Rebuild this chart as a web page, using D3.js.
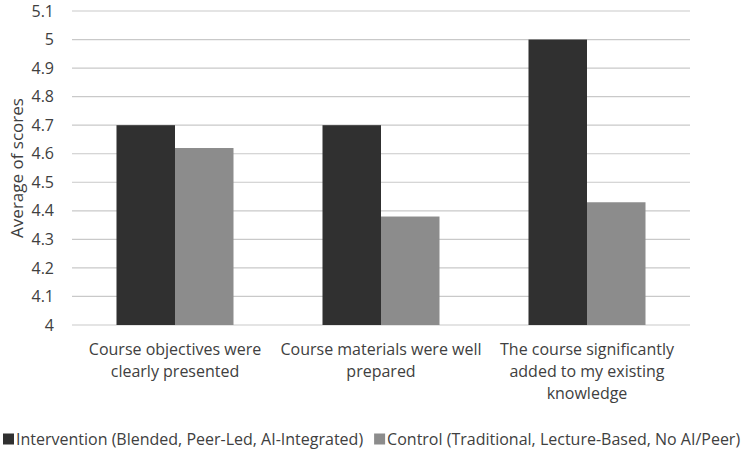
<!DOCTYPE html>
<html>
<head>
<meta charset="utf-8">
<script src="https://cdn.jsdelivr.net/npm/d3@7"></script>
<style>
  body { margin: 0; background: #fff; }
  svg { display: block; }
</style>
</head>
<body>
<svg id="chart" width="744" height="449"></svg>
<script>
// Data
const categories = [
  "Course objectives were\nclearly presented",
  "Course materials were well\nprepared",
  "The course significantly\nadded to my existing\nknowledge"
];
const seriesNames = [
  "Intervention (Blended, Peer-Led, AI-Integrated)",
  "Control (Traditional, Lecture-Based, No AI/Peer)"
];
const interventionValues = [4.7, 4.7, 5.0];
const controlValues = [4.62, 4.38, 4.43];
const yTicks = [4, 4.1, 4.2, 4.3, 4.4, 4.5, 4.6, 4.7, 4.8, 4.9, 5, 5.1];

const colors = ["#303030", "#8c8c8c"];
const font_family = "'Open Sans', sans-serif";
const font_color = "#404040";
const font_size = "16px";

const svg = d3.select("#chart");
const margin = { top: 11, right: 54, bottom: 124, left: 72 };
const width = 744 - margin.left - margin.right;
const height = 449 - margin.top - margin.bottom;

const g = svg.append("g")
  .attr("transform", `translate(${margin.left},${margin.top})`);

const tableData = categories.map((c, i) => ({
  category: c,
  values: [interventionValues[i], controlValues[i]]
}));

// Scales
const x0 = d3.scaleBand()
  .domain(categories)
  .range([0, width])
  .paddingInner(0.432)
  .paddingOuter(0.216);

const x1 = d3.scaleBand()
  .domain([0, 1])
  .range([0, x0.bandwidth()]);

const y = d3.scaleLinear()
  .domain([4, 5.1])
  .range([height, 0]);

// Gridlines
g.append("g")
  .selectAll("line")
  .data(yTicks)
  .join("line")
  .attr("x1", 0)
  .attr("x2", width)
  .attr("y1", d => y(d))
  .attr("y2", d => y(d))
  .attr("stroke", "#c9c9c9")
  .attr("stroke-width", 1.2);

// Y axis labels
const yAxis = g.append("g")
  .call(d3.axisLeft(y).tickValues(yTicks).tickSize(0).tickPadding(18).tickFormat(d3.format("")));
yAxis.select(".domain").remove();
yAxis.selectAll("text")
  .style("font-size", font_size)
  .style("font-family", font_family)
  .style("fill", font_color);

// Bars
const groups = g.selectAll(".bar-group")
  .data(tableData)
  .join("g")
  .attr("class", "bar-group")
  .attr("transform", d => `translate(${x0(d.category)},0)`);

groups.selectAll("rect")
  .data(d => d.values.map((v, i) => ({ v, i })))
  .join("rect")
  .attr("x", d => x1(d.i))
  .attr("y", d => y(d.v))
  .attr("width", x1.bandwidth())
  .attr("height", d => height - y(d.v))
  .attr("fill", d => colors[d.i]);

// Category labels
const catLabels = g.append("g")
  .selectAll("text")
  .data(categories)
  .join("text")
  .attr("x", d => x0(d) + x0.bandwidth() / 2)
  .attr("y", height + 24)
  .attr("text-anchor", "middle")
  .attr("fill", font_color)
  .style("font-size", font_size)
  .style("font-family", font_family);

catLabels.selectAll("tspan")
  .data(d => d.split("\n"))
  .join("tspan")
  .attr("x", function () { return this.parentNode.getAttribute("x"); })
  .attr("dy", (d, i) => i === 0 ? "0.35em" : 22)
  .text(d => d);

// Y axis title
svg.append("text")
  .attr("transform", `translate(17,${margin.top + height / 2}) rotate(-90)`)
  .attr("text-anchor", "middle")
  .attr("dy", "0.35em")
  .attr("fill", font_color)
  .style("font-size", "17px")
  .style("font-family", font_family)
  .text("Average of scores");

// Legend
const legend = svg.append("g").attr("transform", "translate(0,439)");
let lx = 3;
seriesNames.forEach((name, i) => {
  const item = legend.append("g").attr("transform", `translate(${lx},0)`);
  item.append("rect")
    .attr("x", 0)
    .attr("y", -5.5)
    .attr("width", 11)
    .attr("height", 11)
    .attr("fill", colors[i]);
  const t = item.append("text")
    .attr("x", 13)
    .attr("dy", "0.35em")
    .attr("fill", font_color)
    .style("font-size", font_size)
    .style("font-family", font_family)
    .text(name);
  lx += 13 + t.node().getComputedTextLength() + 11;
});
</script>
</body>
</html>
